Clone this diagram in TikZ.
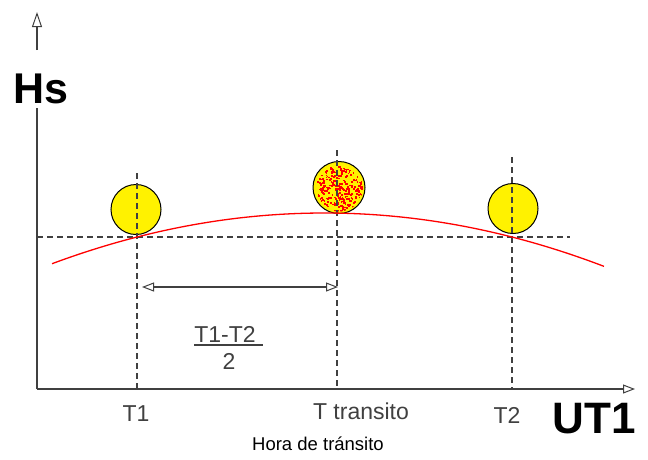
\documentclass[tikz,border=0pt]{standalone}
\usepackage{fontspec}
\setmainfont{Liberation Sans}
\usetikzlibrary{arrows.meta,calc}
\definecolor{axisgray}{HTML}{404040}
\tikzset{
  axisline/.style={draw=axisgray, line width=1.3pt},
  guide/.style={draw=axisgray, line width=1.3pt, dash pattern=on 6pt off 4pt},
  sun/.style={circle, draw=black, line width=1pt, fill=yellow, minimum size=50pt, inner sep=0pt},
  lbl/.style={font=\fontsize{23}{23}\selectfont, anchor=base, text=axisgray, inner sep=0pt},
  biglbl/.style={font=\fontsize{43}{43}\selectfont\bfseries, anchor=base, inner sep=0pt},
  opentip/.tip={Triangle[open, length=12pt, width=9pt, line width=1pt]}
}
\begin{document}
\begin{tikzpicture}[x=1pt,y=-1pt]
\useasboundingbox (0,0) rectangle (648,459);
% axes
\coordinate (O) at (37,389);
\coordinate (ytip) at (37,12);
\coordinate (ygapb) at (37,108);
\coordinate (ygapt) at (37,50);
\coordinate (xtip) at (635,389);
\draw[axisline] (O) -- (ygapb);
\draw[axisline, -{Triangle[open, length=15pt, width=10pt, line width=1pt]}] (ygapt) -- (ytip);
\draw[axisline, -opentip] (O) -- (xtip);
\node[biglbl] (hs) at (41,103) {Hs};
\node[biglbl, font=\fontsize{44}{44}\selectfont\bfseries] (ut) at (594,433) {UT1};
% suns
\node[sun] (s1) at (136,209.5) {};
\node[sun, minimum size=52pt] (s2) at (339,187.5) {};
\node[sun] (s3) at (513,208.5) {};
\begin{scope}
  \clip (s2.center) circle (24pt);
  \pgfmathsetseed{11}
  \foreach \i in {1,...,260}{
    \pgfmathsetmacro\rr{23*sqrt(rnd)}
    \pgfmathsetmacro\aa{360*rnd}
    \fill[red] ($(s2.center)+(\aa:\rr)$) rectangle +(1.8,1.8);
  }
\end{scope}
% guide lines
\coordinate (t1top) at (137,173);
\coordinate (t1bot) at (137,389);
\coordinate (tttop) at (337,150);
\coordinate (ttbot) at (337,389);
\coordinate (t2top) at (512,157);
\coordinate (t2bot) at (512,389);
\coordinate (hl) at (37,237);
\coordinate (hr) at (570,237);
\draw[guide] (t1top) -- (t1bot);
\draw[guide] (tttop) -- (ttbot);
\draw[guide] (t2top) -- (t2bot);
\draw[guide] (hl) -- (hr);
% curve
\draw[red, line width=1.3pt] plot[domain=52:604, samples=80, smooth] (\x, {213+6.83*((\x-324.5)/100)*((\x-324.5)/100)});
% interval arrow
\coordinate (ia) at (142,287);
\coordinate (ib) at (338,287);
\draw[axisline, opentip-opentip] (ia) -- (ib);
% fraction
\node[lbl] (num) at (225,342) {T1-T2};
\node[lbl] (den) at (229,369) {2};
\coordinate (bl) at (194,345);
\coordinate (br) at (263,345);
\draw[axisline, line width=1.2pt] (bl) -- (br);
% tick labels
\node[lbl] (l1) at (136,421) {T1};
\node[lbl] (l2) at (361,419) {T transito};
\node[lbl] (l3) at (507,423) {T2};
\node[lbl, font=\fontsize{18.5}{18.5}\selectfont, text=black] (hora) at (318,450) {Hora de tránsito};
\end{tikzpicture}
\end{document}
